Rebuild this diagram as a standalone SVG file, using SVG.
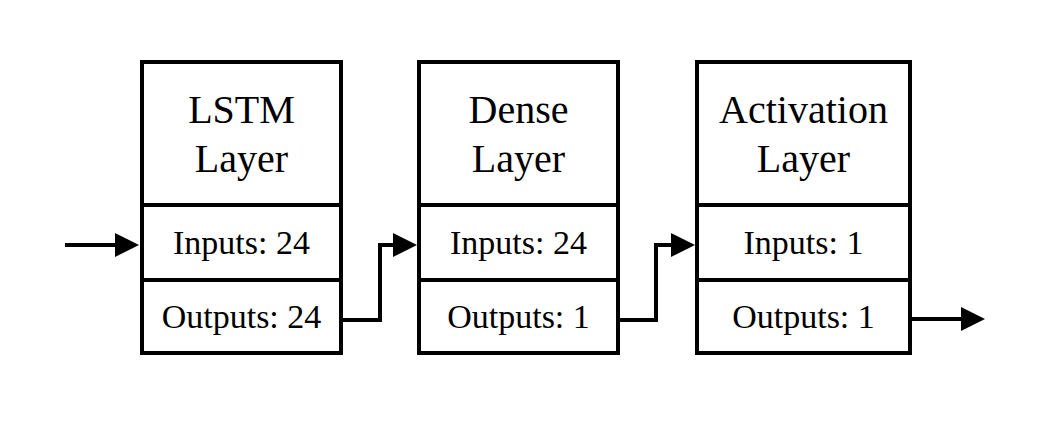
<svg xmlns="http://www.w3.org/2000/svg" width="1054" height="422" viewBox="0 0 1054 422">
<style>
.box{fill:#fff;stroke:#000;stroke-width:4}
.div{stroke:#000;stroke-width:4}
.title{font-family:"Liberation Serif","Times New Roman",serif;font-size:40px;fill:#000;text-anchor:middle}
.lbl{font-family:"Liberation Serif","Times New Roman",serif;font-size:34px;fill:#000;text-anchor:middle}
.conn{fill:none;stroke:#000;stroke-width:4}
</style>
<defs>
<marker id="arr" markerUnits="userSpaceOnUse" markerWidth="24" markerHeight="24" refX="12" refY="12" orient="auto">
<path d="M0,0 L24,12 L0,24 z" fill="#000"/>
</marker>
</defs>
<rect width="1054" height="422" fill="#fff"/>
<g id="lstm">
<rect class="box" x="142" y="62" width="199" height="291"/>
<line class="div" x1="142" y1="205" x2="341" y2="205"/>
<line class="div" x1="142" y1="280" x2="341" y2="280"/>
<text class="title" x="241.5" y="123">LSTM</text>
<text class="title" x="241.5" y="172">Layer</text>
<text class="lbl" x="241.5" y="254">Inputs: 24</text>
<text class="lbl" x="241.5" y="328">Outputs: 24</text>
</g>
<g id="dense">
<rect class="box" x="419" y="62" width="199" height="291"/>
<line class="div" x1="419" y1="205" x2="618" y2="205"/>
<line class="div" x1="419" y1="280" x2="618" y2="280"/>
<text class="title" x="518.5" y="123">Dense</text>
<text class="title" x="518.5" y="172">Layer</text>
<text class="lbl" x="518.5" y="254">Inputs: 24</text>
<text class="lbl" x="518.5" y="328">Outputs: 1</text>
</g>
<g id="activation">
<rect class="box" x="697" y="62" width="213" height="291"/>
<line class="div" x1="697" y1="205" x2="910" y2="205"/>
<line class="div" x1="697" y1="280" x2="910" y2="280"/>
<text class="title" x="803.5" y="123">Activation</text>
<text class="title" x="803.5" y="172">Layer</text>
<text class="lbl" x="803.5" y="254">Inputs: 1</text>
<text class="lbl" x="803.5" y="328">Outputs: 1</text>
</g>
<g id="connectors">
<path class="conn" d="M65,245 H127" marker-end="url(#arr)"/>
<path class="conn" d="M343,320 H380 V245 H405" marker-end="url(#arr)"/>
<path class="conn" d="M620,320 H656 V245 H683" marker-end="url(#arr)"/>
<path class="conn" d="M912,319 H973" marker-end="url(#arr)"/>
</g>
</svg>
